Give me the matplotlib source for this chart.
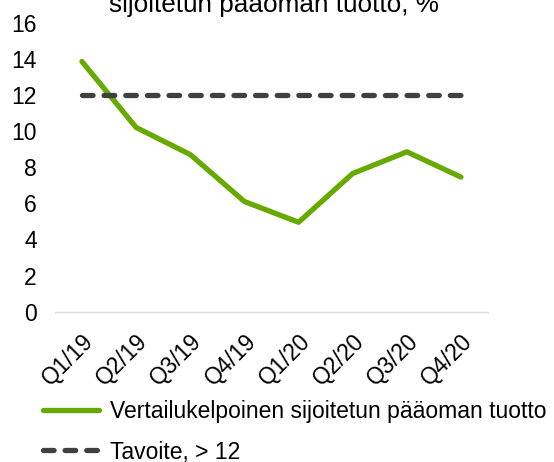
import numpy as np
import matplotlib.pyplot as plt

plt.rcParams['font.family'] = ['Liberation Sans', 'DejaVu Sans']

# data
quarters = ['Q1/19', 'Q2/19', 'Q3/19', 'Q4/19', 'Q1/20', 'Q2/20', 'Q3/20', 'Q4/20']
roce = [13.85, 10.2, 8.7, 6.1, 4.95, 7.65, 8.85, 7.45]
target = [12, 12, 12, 12, 12, 12, 12, 12]

fig = plt.figure(figsize=(5.54, 4.62), dpi=100)
ax = fig.add_axes([0.099, 0.3253, 0.782, 0.6257])

x = np.arange(len(quarters))
ax.plot(x, roce, color='#66AA00', lw=3.8, solid_capstyle='round',
        label='Vertailukelpoinen sijoitetun pääoman tuotto')
ax.plot(x, target, color='#404040', lw=3.8, dashes=(2, 2.1),
        dash_capstyle='round', label='Tavoite, > 12')

ax.set_xlim(-0.5, len(quarters) - 0.5)
ax.set_ylim(0, 16)
ax.set_yticks(np.arange(0, 17, 2))
ax.set_xticks(x)
ax.set_xticklabels(quarters, rotation=45, ha='right', rotation_mode='anchor')
ax.tick_params(axis='both', length=0, labelsize=16.5)
ax.tick_params(axis='y', pad=13)
ax.tick_params(axis='x', pad=13)

for s in ['top', 'right', 'left']:
    ax.spines[s].set_visible(False)
ax.spines['bottom'].set_color('#d9d9d9')
ax.spines['bottom'].set_linewidth(1)

# title is cut off at the top of the image
fig.text(0.495, 1.015, 'sijoitetun pääoman tuotto, %', ha='center', va='top',
         fontsize=18.8)

fig.legend(loc='lower left', bbox_to_anchor=(0.049, -0.038), frameon=False,
           fontsize=16.5, handlelength=2.45, handletextpad=0.45,
           labelspacing=0.75, borderpad=0.2)

fig.savefig('out.png', dpi=100)
